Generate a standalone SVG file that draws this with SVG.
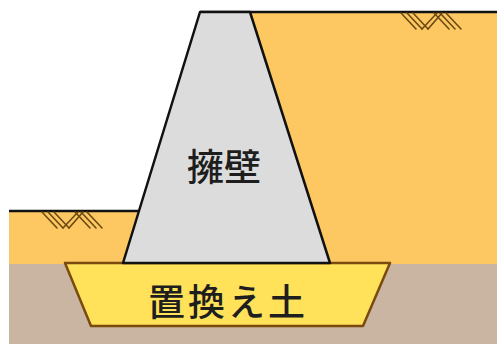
<svg xmlns="http://www.w3.org/2000/svg" width="497" height="344" viewBox="0 0 497 344">
  <style>
    .soil { fill: #fdc762; }
    .base { fill: #c9b5a1; }
    .edge { fill: none; stroke: #111; stroke-width: 2.5; stroke-linejoin: round; }
    .hatch { fill: none; stroke: #6b4a12; stroke-width: 1.6; stroke-linecap: round; }
    .label { font-family: "Noto Sans CJK JP", "Noto Sans CJK SC", sans-serif; font-size: 37px; font-weight: 500; fill: #1e1e1e; text-anchor: middle; }
  </style>
  <defs>
    <!-- ground surface hatch symbol -->
    <g id="hatch-mark" class="hatch">
      <path d="M0 0 L15 16 M6 0 L21 16 M12 0 L27 16"/>
      <path d="M36 0 L21 16 M41 0 L27 16"/>
      <path d="M33 0 L48 16 M39 0 L54 16 M45 0 L60 16"/>
    </g>
  </defs>

  <!-- ground layers -->
  <rect class="base" x="9" y="264" width="488" height="80"/>
  <polygon class="soil" points="250,12 497,12 497,264 330,264"/>
  <polygon class="soil" points="9,211 139,211 123,264 9,264"/>

  <!-- ground surface lines -->
  <line class="edge" x1="200" y1="12" x2="497" y2="12"/>
  <line class="edge" x1="9" y1="211" x2="139" y2="211"/>
  <use href="#hatch-mark" x="401" y="13"/>
  <use href="#hatch-mark" x="42" y="212"/>

  <!-- replacement soil -->
  <g id="replacement-soil">
    <polygon points="65,263 390,263 363,326 91,326" fill="#ffe15a" stroke="#7a4a0e" stroke-width="2.5" stroke-linejoin="round"/>
    <text class="label" x="228" y="316" letter-spacing="3">置換え土</text>
  </g>

  <!-- retaining wall -->
  <g id="retaining-wall">
    <polygon points="200,12 250,12 330,263 123,263" class="edge" style="fill:#dcdcdc"/>
    <text class="label" x="224" y="181">擁壁</text>
  </g>
</svg>
